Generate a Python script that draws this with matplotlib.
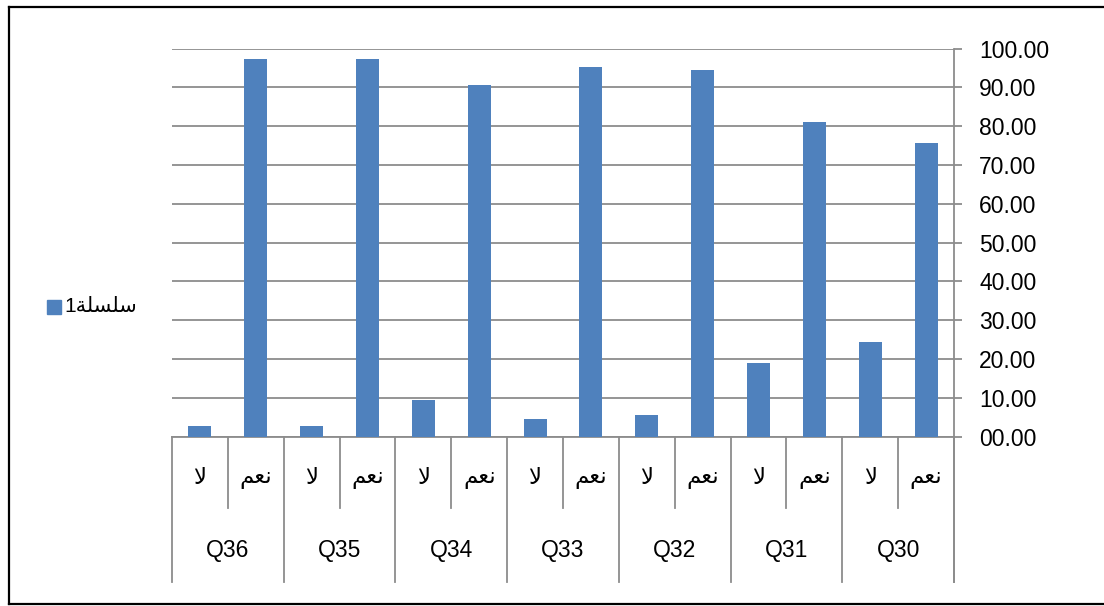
import matplotlib
matplotlib.use("Agg")
import matplotlib.pyplot as plt
import matplotlib.transforms as mtransforms
from matplotlib.patches import Rectangle
from matplotlib.lines import Line2D

questions = ["Q36", "Q35", "Q34", "Q33", "Q32", "Q31", "Q30"]
no_vals = [2.7, 2.7, 9.4, 4.6, 5.6, 18.9, 24.4]
yes_vals = [97.3, 97.3, 90.6, 95.4, 94.4, 81.1, 75.6]

# matplotlib 3.10 does no Arabic shaping, so use presentation forms in visual order
lbl_no = "\ufefb"                      # لا
lbl_yes = "\ufee2\ufecc\ufee7"         # نعم
series_name = "1\ufe94\ufee0\ufeb4\ufee0\ufeb3"   # سلسلة1

fonts = ["Liberation Sans", "DejaVu Sans"]
plt.rcParams["font.family"] = fonts
fs = 16.5
gray = "#8c8c8c"
blue = "#4f81bd"

W, H = 1104, 606
fig = plt.figure(figsize=(W / 100, H / 100), dpi=100)
x0, x1, y0, y1 = 172, 954, 436.5, 48.7
ax = fig.add_axes([x0 / W, (H - y0) / H, (x1 - x0) / W, (y0 - y1) / H])

vals = []
labels = []
for n, y in zip(no_vals, yes_vals):
    vals += [n, y]
    labels += [lbl_no, lbl_yes]
xs = list(range(len(vals)))

ax.bar(xs, vals, width=0.41, color=blue, zorder=3)
ax.set_xlim(-0.5, len(vals) - 0.5)
ax.set_ylim(0, 100)
ax.set_yticks(range(0, 101, 10))
ax.set_yticklabels(["{:05.2f}".format(v) for v in range(0, 101, 10)], fontsize=fs)
ax.yaxis.tick_right()
ax.tick_params(axis="y", length=6, width=1.3, color=gray, pad=12)
ax.set_xticks([])
ax.grid(axis="y", color=gray, lw=1.3, zorder=0)
for s in ["top", "left"]:
    ax.spines[s].set_visible(False)
ax.spines["right"].set_color(gray)
ax.spines["right"].set_linewidth(1.3)
ax.spines["bottom"].set_color(gray)
ax.spines["bottom"].set_linewidth(1.3)

# multi-level category axis
tr = mtransforms.blended_transform_factory(ax.transData, ax.transAxes)
px = 1.0 / (y0 - y1)
short_end = -(508 - y0) * px
long_end = -(582 - y0) * px
for k in range(len(vals) + 1):
    bottom = long_end if k % 2 == 0 else short_end
    ax.plot([k - 0.5, k - 0.5], [0, bottom], color=gray, lw=1.3,
            transform=tr, clip_on=False)
ax.plot([1, 1], [0, long_end], color=gray, lw=1.3, transform=ax.transAxes, clip_on=False)

for x, lab in zip(xs, labels):
    ax.text(x, -(477 - y0) * px, lab, transform=tr, ha="center", va="center",
            fontsize=fs)
for i, q in enumerate(questions):
    ax.text(2 * i + 0.5, -(550 - y0) * px, q, transform=tr, ha="center",
            va="center", fontsize=fs)

# legend
fig.patches.append(Rectangle((47 / W, 1 - 314 / H), 14 / W, 14 / H,
                             color=blue, transform=fig.transFigure))
fig.text(64 / W, 1 - 306 / H, series_name, ha="left", va="center", fontsize=15)

# chart border
for xy in [([9, 9], [7, 604]), ([9, W], [7, 7]), ([9, W], [604, 604])]:
    fig.add_artist(Line2D([v / W for v in xy[0]], [1 - v / H for v in xy[1]],
                          color="black", lw=1.6, transform=fig.transFigure))

fig.savefig("out.png", dpi=100)
